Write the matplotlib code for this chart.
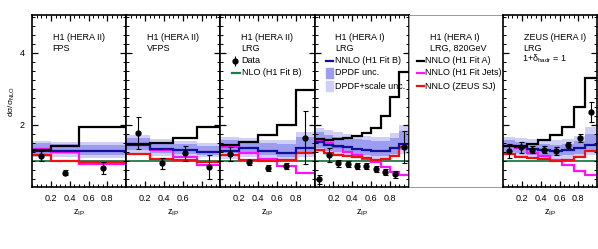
import matplotlib
matplotlib.use("Agg")
import matplotlib.pyplot as plt
from matplotlib.ticker import MultipleLocator
from matplotlib.patches import Rectangle

plt.rcParams["font.family"] = ["Liberation Sans", "DejaVu Sans"]
plt.rcParams["font.size"] = 6.5
plt.rcParams["mathtext.fontset"] = "custom"
plt.rcParams["mathtext.rm"] = "Liberation Sans"
plt.rcParams["mathtext.it"] = "Liberation Sans:italic"

# ---------------- DATA ----------------
# panel 1: H1 (HERA II) FPS
fps_edges = [0.0, 0.2, 0.5, 1.0]
fps_nlo = [1.0, 1.0, 1.0]
fps_fit_a = [1.31, 1.41, 1.94]
fps_fit_b = [1.29, 1.28, 1.27]
fps_jets = [1.33, 1.24, 0.93]
fps_zeus = [1.18, 1.01, 0.97]
fps_dpdf_lo = [1.20, 1.19, 1.18]
fps_dpdf_hi = [1.50, 1.46, 1.45]
fps_scale_lo = [1.11, 1.10, 1.09]
fps_scale_hi = [1.56, 1.53, 1.52]
fps_x = [0.1, 0.35, 0.75]
fps_y = [1.14, 0.68, 0.81]
fps_err = [0.14, 0.07, 0.17]

# panel 2: H1 (HERA II) VFPS
vfps_edges = [0.0, 0.25, 0.5, 0.75, 1.0]
vfps_nlo = [1.0, 1.0, 1.0, 1.0]
vfps_fit_a = [1.47, 1.51, 1.65, 1.94]
vfps_fit_b = [1.44, 1.33, 1.30, 1.25]
vfps_jets = [1.48, 1.31, 1.12, 0.89]
vfps_zeus = [1.19, 1.07, 1.02, 0.97]
vfps_dpdf_lo = [1.31, 1.21, 1.20, 1.18]
vfps_dpdf_hi = [1.63, 1.53, 1.46, 1.43]
vfps_scale_lo = [1.21, 1.14, 1.12, 1.10]
vfps_scale_hi = [1.72, 1.60, 1.56, 1.51]
vfps_x = [0.125, 0.375, 0.625, 0.875]
vfps_y = [1.77, 0.94, 1.21, 0.84]
vfps_err = [0.44, 0.15, 0.22, 0.34]

# panel 3: H1 (HERA II) LRG
lrg2_edges = [0.0, 0.2, 0.4, 0.6, 0.8, 1.0]
lrg2_nlo = [1.0, 1.0, 1.0, 1.0, 1.0]
lrg2_fit_a = [1.44, 1.52, 1.71, 2.00, 2.97]
lrg2_fit_b = [1.28, 1.35, 1.28, 1.23, 1.37]
lrg2_jets = [1.40, 1.21, 1.05, 0.86, 0.66]
lrg2_zeus = [1.16, 1.03, 1.01, 1.04, 1.22]
lrg2_dpdf_lo = [1.21, 1.21, 1.17, 1.12, 1.26]
lrg2_dpdf_hi = [1.58, 1.54, 1.49, 1.47, 1.68]
lrg2_scale_lo = [1.07, 1.12, 1.07, 1.03, 1.12]
lrg2_scale_hi = [1.68, 1.63, 1.58, 1.58, 1.81]
lrg2_x = [0.1, 0.3, 0.5, 0.7, 0.9]
lrg2_y = [1.19, 0.96, 0.81, 0.86, 1.65]
lrg2_err = [0.19, 0.08, 0.09, 0.08, 0.74]

# panel 4: H1 (HERA I) LRG
lrg1_edges = [0.0, 0.1, 0.2, 0.3, 0.4, 0.5, 0.6, 0.7, 0.8, 0.9, 1.0]
lrg1_nlo = [1.0, 1.0, 1.0, 1.0, 1.0, 1.0, 1.0, 1.0, 1.0, 1.0]
lrg1_fit_a = [1.62, 1.58, 1.60, 1.64, 1.70, 1.78, 1.92, 2.26, 2.77, 3.46]
lrg1_fit_b = [1.54, 1.45, 1.42, 1.38, 1.34, 1.31, 1.29, 1.29, 1.35, 1.47]
lrg1_jets = [1.56, 1.49, 1.38, 1.26, 1.17, 1.07, 0.98, 0.84, 0.70, 0.61]
lrg1_zeus = [1.30, 1.22, 1.18, 1.15, 1.12, 1.08, 1.03, 1.06, 1.15, 1.38]
lrg1_dpdf_lo = [1.36, 1.28, 1.25, 1.22, 1.19, 1.16, 1.14, 1.14, 1.19, 1.30]
lrg1_dpdf_hi = [1.80, 1.73, 1.68, 1.64, 1.60, 1.57, 1.55, 1.55, 1.63, 1.82]
lrg1_scale_lo = [1.25, 1.18, 1.15, 1.12, 1.09, 1.07, 1.05, 1.05, 1.10, 1.20]
lrg1_scale_hi = [1.92, 1.86, 1.80, 1.76, 1.72, 1.70, 1.68, 1.68, 1.78, 2.00]
lrg1_x = [0.05, 0.15, 0.25, 0.35, 0.45, 0.55, 0.65, 0.75, 0.85, 0.95]
lrg1_y = [0.49, 1.17, 0.94, 0.92, 0.86, 0.86, 0.77, 0.70, 0.63, 1.38]
lrg1_err = [0.12, 0.19, 0.10, 0.09, 0.09, 0.09, 0.08, 0.08, 0.10, 0.44]

# panel 6: ZEUS (HERA I) LRG
zeus_edges = [0.0, 0.125, 0.25, 0.375, 0.5, 0.625, 0.75, 0.875, 1.0]
zeus_nlo = [1.0, 1.0, 1.0, 1.0, 1.0, 1.0, 1.0, 1.0]
zeus_fit_a = [1.41, 1.42, 1.48, 1.57, 1.73, 1.95, 2.50, 3.30]
zeus_fit_b = [1.42, 1.38, 1.33, 1.30, 1.29, 1.31, 1.36, 1.44]
zeus_jets = [1.42, 1.35, 1.22, 1.14, 1.03, 0.88, 0.72, 0.61]
zeus_zeus = [1.20, 1.11, 1.08, 1.05, 1.00, 1.04, 1.12, 1.28]
zeus_dpdf_lo = [1.26, 1.22, 1.18, 1.15, 1.14, 1.16, 1.20, 1.28]
zeus_dpdf_hi = [1.57, 1.53, 1.49, 1.46, 1.45, 1.47, 1.55, 1.75]
zeus_scale_lo = [1.17, 1.13, 1.09, 1.06, 1.05, 1.07, 1.11, 1.18]
zeus_scale_hi = [1.67, 1.63, 1.60, 1.58, 1.58, 1.60, 1.70, 1.95]
zeus_x = [0.0625, 0.1875, 0.3125, 0.4375, 0.5625, 0.6875, 0.8125, 0.9375]
zeus_y = [1.27, 1.38, 1.31, 1.31, 1.28, 1.45, 1.64, 2.37]
zeus_err = [0.19, 0.15, 0.10, 0.10, 0.10, 0.08, 0.10, 0.28]

# ---------------- STYLE ----------------
C_FIT_A = "black"
C_FIT_B = "#10109a"
C_JETS = "#ff10ff"
C_ZEUS = "#f01010"
C_NLO = "#1f7a4a"
C_DPDF = "#9c9cf0"
C_SCALE = "#cfcff7"
LW = 1.6

panels = [
    dict(edges=fps_edges, nlo=fps_nlo, fit_a=fps_fit_a, fit_b=fps_fit_b, jets=fps_jets,
         zeus=fps_zeus, dlo=fps_dpdf_lo, dhi=fps_dpdf_hi, slo=fps_scale_lo, shi=fps_scale_hi,
         x=fps_x, y=fps_y, err=fps_err, title=["H1 (HERA II)", "FPS"],
         xlabels=["0.2", "0.4", "0.6", "0.8"]),
    dict(edges=vfps_edges, nlo=vfps_nlo, fit_a=vfps_fit_a, fit_b=vfps_fit_b, jets=vfps_jets,
         zeus=vfps_zeus, dlo=vfps_dpdf_lo, dhi=vfps_dpdf_hi, slo=vfps_scale_lo, shi=vfps_scale_hi,
         x=vfps_x, y=vfps_y, err=vfps_err, title=["H1 (HERA II)", "VFPS"],
         xlabels=["0.2", "0.4", "0.6", ""]),
    dict(edges=lrg2_edges, nlo=lrg2_nlo, fit_a=lrg2_fit_a, fit_b=lrg2_fit_b, jets=lrg2_jets,
         zeus=lrg2_zeus, dlo=lrg2_dpdf_lo, dhi=lrg2_dpdf_hi, slo=lrg2_scale_lo, shi=lrg2_scale_hi,
         x=lrg2_x, y=lrg2_y, err=lrg2_err, title=["H1 (HERA II)", "LRG"],
         xlabels=["0.2", "0.4", "0.6", "0.8"]),
    dict(edges=lrg1_edges, nlo=lrg1_nlo, fit_a=lrg1_fit_a, fit_b=lrg1_fit_b, jets=lrg1_jets,
         zeus=lrg1_zeus, dlo=lrg1_dpdf_lo, dhi=lrg1_dpdf_hi, slo=lrg1_scale_lo, shi=lrg1_scale_hi,
         x=lrg1_x, y=lrg1_y, err=lrg1_err, title=["H1 (HERA I)", "LRG"],
         xlabels=["0.2", "0.4", "0.6", "0.8"]),
    None,
    dict(edges=zeus_edges, nlo=zeus_nlo, fit_a=zeus_fit_a, fit_b=zeus_fit_b, jets=zeus_jets,
         zeus=zeus_zeus, dlo=zeus_dpdf_lo, dhi=zeus_dpdf_hi, slo=zeus_scale_lo, shi=zeus_scale_hi,
         x=zeus_x, y=zeus_y, err=zeus_err, title=["ZEUS (HERA I)", "LRG"],
         xlabels=["0.2", "0.4", "0.6", "0.8"]),
]

# ---------------- FIGURE ----------------
W, H = 598, 249
fig = plt.figure(figsize=(W / 100, H / 100), dpi=100)
left_px = [32, 126.2, 220.4, 314.6, 408.8, 503.0]
panel_w = 94.2
bottom_px, top_px = 187, 15

axes = []
for i, p in enumerate(panels):
    ax = fig.add_axes([left_px[i] / W, (H - bottom_px) / H, panel_w / W, (bottom_px - top_px) / H])
    ax.set_xlim(0, 1)
    ax.set_ylim(0.28, 5.05)
    axes.append(ax)

    if p is None:
        ax.set_xticks([])
        ax.set_yticks([])
        for s in ax.spines.values():
            s.set_color("#888888")
            s.set_linewidth(0.6)
        continue

    e = p["edges"]
    ax.stairs(p["shi"], e, baseline=p["slo"], fill=True, color=C_SCALE, lw=0)
    ax.stairs(p["dhi"], e, baseline=p["dlo"], fill=True, color=C_DPDF, lw=0)
    ax.stairs(p["nlo"], e, baseline=None, color=C_NLO, lw=1.3)
    ax.stairs(p["jets"], e, baseline=None, color=C_JETS, lw=LW)
    ax.stairs(p["zeus"], e, baseline=None, color=C_ZEUS, lw=LW)
    ax.stairs(p["fit_b"], e, baseline=None, color=C_FIT_B, lw=LW)
    ax.stairs(p["fit_a"], e, baseline=None, color=C_FIT_A, lw=LW)
    ax.errorbar(p["x"], p["y"], yerr=p["err"], fmt="o", color="black", ms=3.5,
                elinewidth=0.8, capsize=1.8, capthick=0.8, zorder=5)

    for s in ax.spines.values():
        s.set_linewidth(1.2)
    ax.set_xticks([0.2, 0.4, 0.6, 0.8], labels=p["xlabels"])
    ax.xaxis.set_minor_locator(MultipleLocator(0.05))
    ax.set_yticks([2, 4])
    ax.yaxis.set_minor_locator(MultipleLocator(0.25))
    ax.tick_params(which="both", direction="in", top=True, bottom=True, left=True, right=True)
    ax.tick_params(which="major", length=4.5, width=0.9, pad=5)
    ax.tick_params(which="minor", length=2.2, width=0.7)
    if i > 0:
        ax.tick_params(labelleft=False)
    ax.set_xlabel("z$_{\\mathrm{IP}}$", labelpad=3)

    for k, line in enumerate(p["title"]):
        ax.text(0.22, 0.872 - k * 0.064, line, transform=ax.transAxes, va="center")

# y axis title
axes[0].set_ylabel("d\u03c3/\u03c3$_{\\mathrm{NLO}}$", fontsize=6)
axes[0].yaxis.set_label_coords(-0.16, 0.5)

# ---------------- LEGENDS ----------------
rows = [0.733, 0.663, 0.587]

ax = axes[2]
ax.errorbar([0.16], [rows[0]], yerr=[0.03], fmt="o", color="black", ms=3.5,
            elinewidth=0.8, transform=ax.transAxes, clip_on=False)
ax.text(0.225, rows[0], "Data", transform=ax.transAxes, va="center")
ax.plot([0.12, 0.21], [rows[1], rows[1]], color=C_NLO, lw=LW, transform=ax.transAxes)
ax.text(0.225, rows[1], "NLO (H1 Fit B)", transform=ax.transAxes, va="center")

ax = axes[3]
ax.plot([0.12, 0.2], [rows[0], rows[0]], color=C_FIT_B, lw=LW, transform=ax.transAxes)
ax.text(0.22, rows[0], "NNLO (H1 Fit B)", transform=ax.transAxes, va="center")
ax.add_patch(Rectangle((0.12, rows[1] - 0.03), 0.08, 0.06, color=C_DPDF, transform=ax.transAxes))
ax.text(0.22, rows[1], "DPDF unc.", transform=ax.transAxes, va="center")
ax.add_patch(Rectangle((0.12, rows[2] - 0.03), 0.08, 0.06, color=C_SCALE, transform=ax.transAxes))
ax.text(0.22, rows[2], "DPDF+scale unc.", transform=ax.transAxes, va="center")

ax = axes[4]
ax.text(0.22, 0.872, "H1 (HERA I)", transform=ax.transAxes, va="center")
ax.text(0.22, 0.808, "LRG, 820GeV", transform=ax.transAxes, va="center")
for r, c, lab in zip(rows, [C_FIT_A, C_JETS, C_ZEUS],
                     ["NNLO (H1 Fit A)", "NNLO (H1 Fit Jets)", "NNLO (ZEUS SJ)"]):
    ax.plot([0.085, 0.165], [r, r], color=c, lw=LW, transform=ax.transAxes)
    ax.text(0.175, r, lab, transform=ax.transAxes, va="center")

axes[5].text(0.2, 0.744, "1+\u03b4$_{\\mathrm{hadr}}$ = 1", transform=axes[5].transAxes, va="center")

fig.savefig("out.png", dpi=100)
